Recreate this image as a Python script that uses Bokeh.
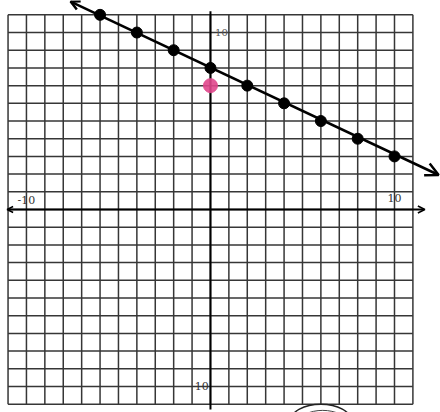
from bokeh.plotting import figure
from bokeh.models import Range1d, Arrow, OpenHead, Label
from bokeh.embed import file_html
from bokeh.resources import INLINE

# data
grid_ticks = list(range(-11, 12))
x_points = [-6, -4, -2, 0, 2, 4, 6, 8, 10]
y_points = [11, 10, 9, 8, 7, 6, 5, 4, 3]
pink_x = [0]
pink_y = [7]
line_x = [-7.6, 12.4]
line_y = [11.75, 1.95]
tick_labels = ["-10", "10", "10", "-10"]

p = figure(width=440, height=412, x_range=Range1d(-11.41, 12.5), y_range=Range1d(-11.47, 11.81),
           min_border=0, toolbar_location=None, output_backend="svg",
           x_axis_location=None, y_axis_location=None)
p.grid.visible = False
p.outline_line_color = None
p.background_fill_color = "white"

gmin, gmax = grid_ticks[0], grid_ticks[-1]
# graph paper
p.multi_line(xs=[[t, t] for t in grid_ticks], ys=[[gmin, gmax] for _ in grid_ticks],
             line_color="#363636", line_width=1.5)
p.multi_line(xs=[[gmin, gmax] for _ in grid_ticks], ys=[[t, t] for t in grid_ticks],
             line_color="#363636", line_width=1.5)

# axes
p.add_layout(Arrow(start=OpenHead(size=6, line_width=1.5), end=OpenHead(size=7, line_width=1.5),
                   x_start=-11.05, y_start=0, x_end=11.65, y_end=0,
                   line_color="black", line_width=2))
p.segment(x0=[0], y0=[-11.3], x1=[0], y1=[11.2], line_color="black", line_width=2)

# line with arrows
p.add_layout(Arrow(start=OpenHead(size=9, line_width=2.5), end=OpenHead(size=13, line_width=2.5),
                   x_start=line_x[0], y_start=line_y[0], x_end=line_x[1], y_end=line_y[1],
                   line_color="black", line_width=2.5))

# points
p.scatter(x_points, y_points, size=11, color="black")
p.scatter(pink_x, pink_y, size=14, color="#e0478c", alpha=0.9)

# tick labels
font = "DejaVu Serif"
p.add_layout(Label(x=-10, y=0.3, text=tick_labels[0], text_font=font, text_font_size="11px",
                   text_color="#333", text_align="center", text_baseline="bottom"))
p.add_layout(Label(x=10, y=0.4, text=tick_labels[1], text_font=font, text_font_size="11px",
                   text_color="#333", text_align="center", text_baseline="bottom"))
p.add_layout(Label(x=0.25, y=10, text=tick_labels[2], text_font=font, text_font_size="10px",
                   text_color="#555", text_align="left", text_baseline="middle"))
p.add_layout(Label(x=-0.1, y=-10, text=tick_labels[3], text_font=font, text_font_size="11px",
                   text_color="#333", text_align="right", text_baseline="middle"))

# pencil scribble at bottom
p.ellipse(x=[6.0], y=[-11.95], width=[3.3], height=[1.9],
          fill_color=None, line_color="#222", line_width=1.5)
p.ellipse(x=[6.1], y=[-12.05], width=[2.6], height=[1.4],
          fill_color=None, line_color="#444", line_width=1)

open("out.html", "w").write(file_html(p, INLINE))
